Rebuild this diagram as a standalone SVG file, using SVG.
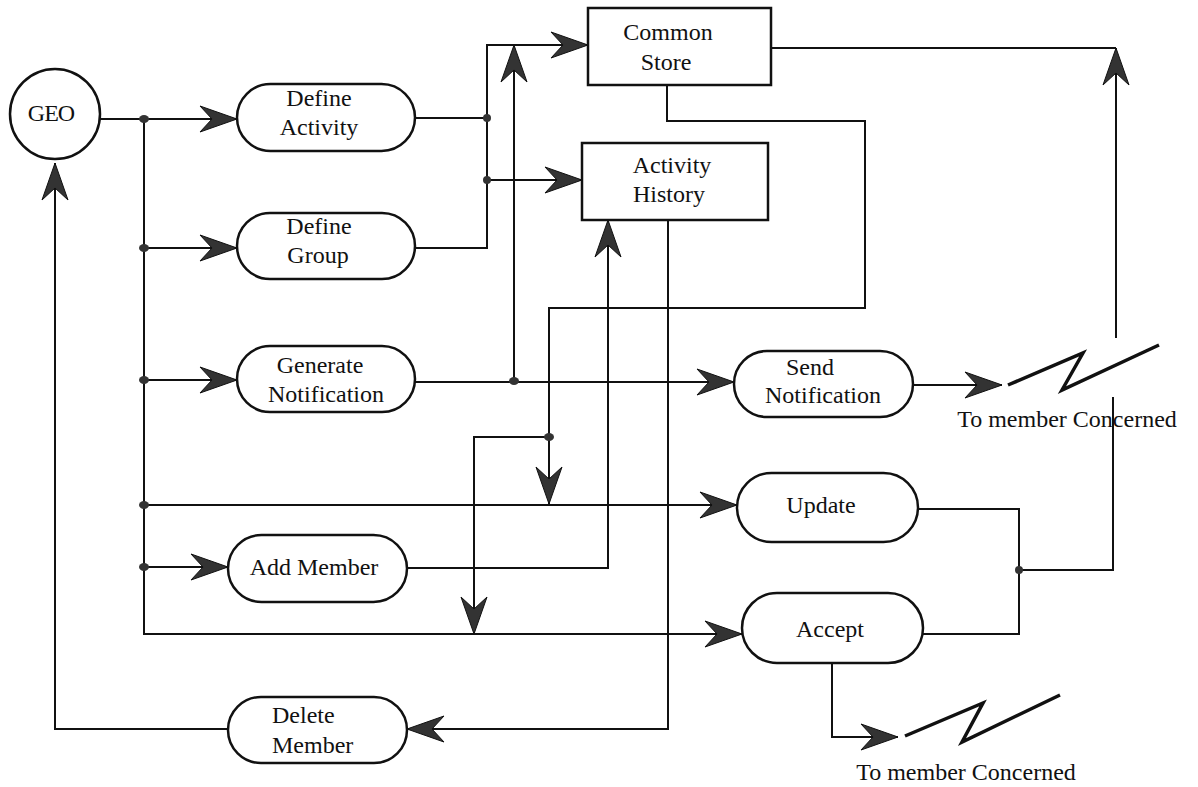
<svg xmlns="http://www.w3.org/2000/svg" width="1198" height="787" viewBox="0 0 1198 787">
<style>
.n{fill:#fff;stroke:#111;stroke-width:2.5}
.t{font-family:"Liberation Serif","Times New Roman",serif;font-size:24px;fill:#111;text-anchor:middle}
.c{fill:none;stroke:#111;stroke-width:2}
.d{fill:#333;stroke:none}
.z{fill:none;stroke:#111;stroke-width:3.5;stroke-linejoin:miter}
</style>
<defs>
<marker id="a" markerUnits="userSpaceOnUse" markerWidth="40" markerHeight="30" viewBox="-38 -14 40 28" refX="0" refY="0" orient="auto">
<path d="M0,0 L-37,-13 L-25,0 L-37,13 Z" fill="#333" stroke="#111" stroke-width="1"/>
</marker>
</defs>
<rect width="1198" height="787" fill="#fff"/>
<g id="connectors">
<path class="c" d="M100,119 H237" marker-end="url(#a)"/>
<path class="c" d="M144,119 V634 H742" marker-end="url(#a)"/>
<path class="c" d="M144,248 H237" marker-end="url(#a)"/>
<path class="c" d="M144,380 H237" marker-end="url(#a)"/>
<path class="c" d="M144,505 H737" marker-end="url(#a)"/>
<path class="c" d="M144,567 H228" marker-end="url(#a)"/>
<path class="c" d="M228,729 H55 V163" marker-end="url(#a)"/>
<path class="c" d="M415,118 H487"/>
<path class="c" d="M415,248 H487 V45 H588" marker-end="url(#a)"/>
<path class="c" d="M487,180 H582" marker-end="url(#a)"/>
<path class="c" d="M415,382 H734" marker-end="url(#a)"/>
<path class="c" d="M514,382 V45" marker-end="url(#a)"/>
<path class="c" d="M667,85 V121 H865 V308 H549 V504" marker-end="url(#a)"/>
<path class="c" d="M549,437 H474 V634" marker-end="url(#a)"/>
<path class="c" d="M407,568 H608 V220" marker-end="url(#a)"/>
<path class="c" d="M668,220 V729 H407" marker-end="url(#a)"/>
<path class="c" d="M913,385 H1002" marker-end="url(#a)"/>
<path class="c" d="M771,48 H1116"/>
<path class="c" d="M1116,338 V48" marker-end="url(#a)"/>
<path class="c" d="M918,509 H1019 V634 H923"/>
<path class="c" d="M1019,570 H1113 V397"/>
<path class="c" d="M832,663 V737 H898" marker-end="url(#a)"/>
<polyline class="z" points="1008,385 1083,353 1062,390 1159,345"/>
<polyline class="z" points="905,736 983,703 962,742 1060,695"/>
<ellipse class="d" cx="144" cy="119" rx="5" ry="4"/>
<ellipse class="d" cx="144" cy="248" rx="5" ry="4"/>
<ellipse class="d" cx="144" cy="380" rx="5" ry="4"/>
<ellipse class="d" cx="144" cy="505" rx="5" ry="4"/>
<ellipse class="d" cx="144" cy="567" rx="5" ry="4"/>
<ellipse class="d" cx="487" cy="118" rx="4" ry="4"/>
<ellipse class="d" cx="487" cy="180" rx="4" ry="4"/>
<ellipse class="d" cx="514" cy="381" rx="5" ry="4"/>
<ellipse class="d" cx="549" cy="437" rx="5" ry="4"/>
<ellipse class="d" cx="1019" cy="570" rx="4" ry="4"/>
</g>
<g id="geo"><circle class="n" cx="55" cy="114" r="45"/><text class="t" x="51" y="121" font-size="22" letter-spacing="-1">GEO</text></g>
<g id="define-activity"><rect class="n" x="237" y="84" width="178" height="67" rx="33.5"/><text class="t" x="319" y="106">Define</text><text class="t" x="319" y="135">Activity</text></g>
<g id="define-group"><rect class="n" x="237" y="213" width="178" height="66" rx="33"/><text class="t" x="319" y="234">Define</text><text class="t" x="318" y="263">Group</text></g>
<g id="generate-notification"><rect class="n" x="237" y="346" width="178" height="66" rx="33"/><text class="t" x="320" y="373">Generate</text><text class="t" x="326" y="402">Notification</text></g>
<g id="common-store"><rect class="n" x="588" y="8" width="183" height="77"/><text class="t" x="668" y="40">Common</text><text class="t" x="666" y="70">Store</text></g>
<g id="activity-history"><rect class="n" x="582" y="143" width="186" height="77"/><text class="t" x="672" y="173">Activity</text><text class="t" x="669" y="202">History</text></g>
<g id="send-notification"><rect class="n" x="734" y="351" width="179" height="66" rx="33"/><text class="t" x="810" y="375">Send</text><text class="t" x="823" y="403">Notification</text></g>
<g id="update"><rect class="n" x="737" y="473" width="181" height="69" rx="34.5"/><text class="t" x="821" y="513">Update</text></g>
<g id="add-member"><rect class="n" x="228" y="535" width="179" height="67" rx="33.5"/><text class="t" x="314" y="575">Add Member</text></g>
<g id="accept"><rect class="n" x="742" y="593" width="181" height="70" rx="35"/><text class="t" x="830" y="637">Accept</text></g>
<g id="delete-member"><rect class="n" x="228" y="697" width="179" height="66" rx="33"/><text class="t" x="272" y="723" style="text-anchor:start">Delete</text><text class="t" x="272" y="753" style="text-anchor:start">Member</text></g>
<g id="labels"><text class="t" x="1067" y="427">To member Concerned</text><text class="t" x="966" y="780">To member Concerned</text></g>
</svg>
